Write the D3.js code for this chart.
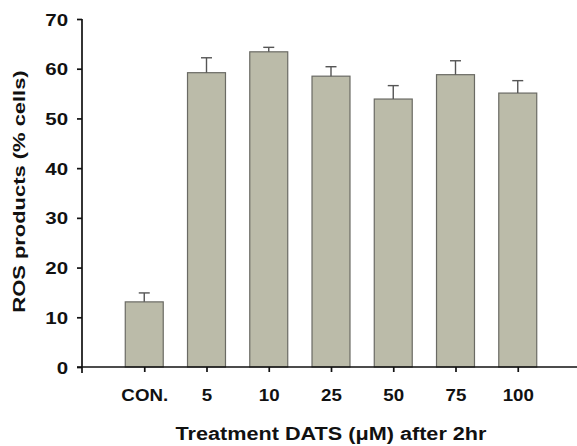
<!DOCTYPE html>
<html>
<head>
<meta charset="utf-8">
<script src="https://cdn.jsdelivr.net/npm/d3@7/dist/d3.min.js"></script>
<style>
  html, body { margin: 0; padding: 0; background: #fff; }
  svg { display: block; }
  text { font-family: "Liberation Sans", Arial, sans-serif; font-weight: bold; fill: #111; }
</style>
</head>
<body>
<svg id="chart" width="577" height="446"></svg>
<script>
// ROS production after 2 hr DATS treatment
const categories = ["CON.", "5", "10", "25", "50", "75", "100"];
const rosMean = [13.1, 59.2, 63.4, 58.5, 53.9, 58.8, 55.1];
const rosErr  = [1.8, 3.0, 0.9, 1.9, 2.7, 2.8, 2.5];
const yTicks = [0, 10, 20, 30, 40, 50, 60, 70];

const svg = d3.select("#chart");
const mLeft = 82, mRight = 580, mTop = 19, mBottom = 367;

const x = d3.scalePoint().domain(categories).range([mLeft, mRight]).padding(1);
const y = d3.scaleLinear().domain([0, 70]).range([mBottom, mTop]);
const barW = x.step() * 0.61;

// bars
svg.append("g").selectAll("rect").data(categories).join("rect")
  .attr("x", (d) => x(d) - barW / 2)
  .attr("y", (d, i) => y(rosMean[i]))
  .attr("width", barW)
  .attr("height", (d, i) => y(0) - y(rosMean[i]))
  .attr("fill", "#bbbba9")
  .attr("stroke", "#6a6a64")
  .attr("stroke-width", 1.2);

// error bars (upper only)
const eb = svg.append("g").attr("stroke", "#555").attr("stroke-width", 1.4);
categories.forEach((d, i) => {
  eb.append("line").attr("x1", x(d)).attr("x2", x(d))
    .attr("y1", y(rosMean[i])).attr("y2", y(rosMean[i] + rosErr[i]));
  eb.append("line").attr("x1", x(d) - 5.5).attr("x2", x(d) + 5.5)
    .attr("y1", y(rosMean[i] + rosErr[i])).attr("y2", y(rosMean[i] + rosErr[i]));
});

// y axis
const syTick = 1.28;
const gy = svg.append("g").attr("transform", `translate(${mLeft},0)`)
  .call(d3.axisLeft(y).tickValues(yTicks).tickSize(5).tickSizeOuter(0).tickPadding(9));
gy.select(".domain").attr("stroke", "#111").attr("stroke-width", 1.7)
  .attr("d", `M0,${mTop}V${mBottom + 6}`);
gy.selectAll(".tick line").attr("stroke", "#111").attr("stroke-width", 1.7);
gy.selectAll(".tick text").attr("font-size", 16).attr("fill", "#111")
  .attr("dy", "0.38em")
  .attr("x", -14 / syTick).attr("transform", `scale(${syTick},1)`);

// x axis
const sxTick = 1.17;
const gx = svg.append("g").attr("transform", `translate(0,${mBottom})`)
  .call(d3.axisBottom(x).tickSize(5).tickSizeOuter(0).tickPadding(18));
gx.select(".domain").attr("stroke", "#111").attr("stroke-width", 1.7)
  .attr("d", `M${mLeft - 5},0H${mRight}`);
gx.selectAll(".tick line").attr("stroke", "#111").attr("stroke-width", 1.7);
gx.selectAll(".tick text").attr("font-size", 16).attr("fill", "#111")
  .attr("transform", `scale(${sxTick},1)`);

// axis titles
svg.append("text")
  .attr("transform", "translate(331,440) scale(1.17,1)")
  .attr("text-anchor", "middle").attr("font-size", 18.5)
  .text("Treatment DATS (\u03BCM) after 2hr");

svg.append("text")
  .attr("transform", "translate(25,191.5) rotate(-90) scale(1.29,1)")
  .attr("text-anchor", "middle").attr("font-size", 17)
  .text("ROS products (% cells)");
</script>
</body>
</html>
